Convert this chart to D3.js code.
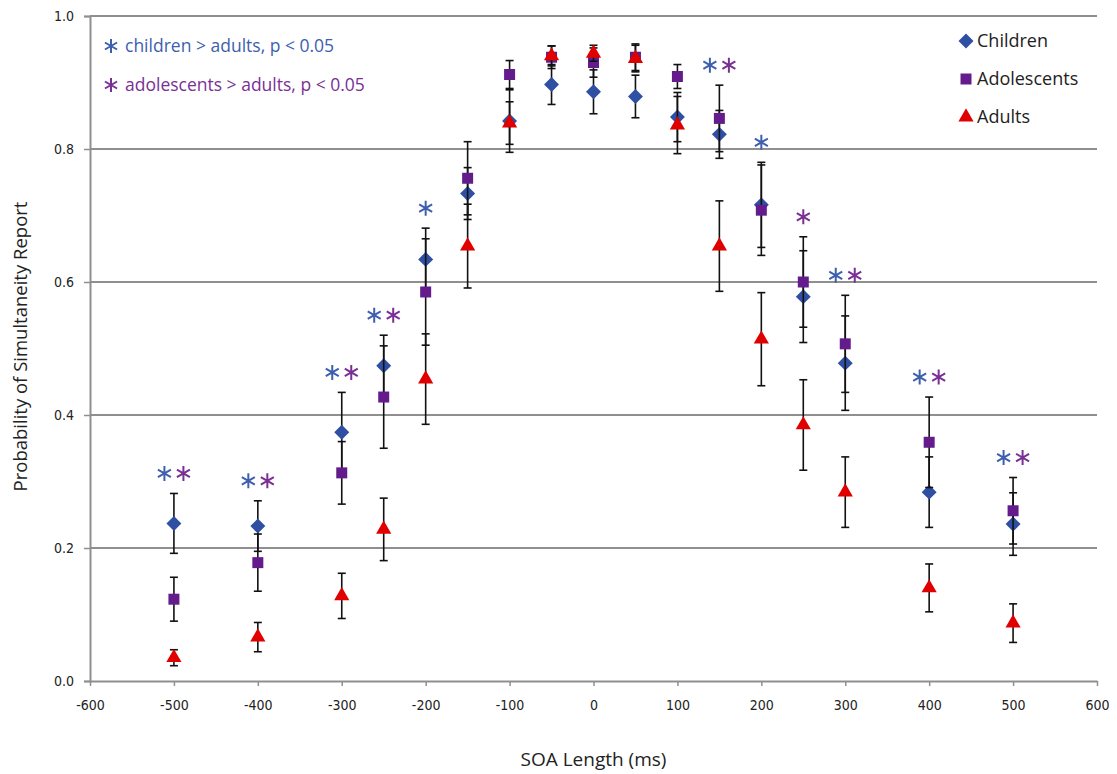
<!DOCTYPE html>
<html>
<head>
<meta charset="utf-8">
<script src="https://cdn.jsdelivr.net/npm/d3@7"></script>
<style>
  body { margin: 0; background: #fff; }
  svg { display: block; }
  .title { font-family: "Open Sans", "Liberation Sans", sans-serif; font-size: 17px; fill: #222; }
</style>
</head>
<body>
<div id="chart"></div>
<script>
// SOA values (ms)
const soa = [-500, -400, -300, -250, -200, -150, -100, -50, 0, 50, 100, 150, 200, 250, 300, 400, 500];

const childrenMean = [0.237, 0.233, 0.374, 0.474, 0.634, 0.733, 0.842, 0.897, 0.886, 0.879, 0.848, 0.822, 0.716, 0.578, 0.478, 0.284, 0.236];
const childrenErr  = [0.045, 0.038, 0.060, 0.046, 0.047, 0.039, 0.047, 0.030, 0.033, 0.032, 0.037, 0.036, 0.064, 0.069, 0.071, 0.053, 0.047];

const adolMean = [0.123, 0.178, 0.313, 0.427, 0.585, 0.756, 0.912, 0.938, 0.930, 0.938, 0.909, 0.846, 0.708, 0.600, 0.507, 0.359, 0.256];
const adolErr  = [0.033, 0.043, 0.047, 0.077, 0.080, 0.055, 0.021, 0.017, 0.022, 0.020, 0.018, 0.050, 0.068, 0.068, 0.073, 0.068, 0.050];

const adultMean = [0.035, 0.066, 0.128, 0.228, 0.454, 0.654, 0.839, 0.940, 0.944, 0.936, 0.836, 0.654, 0.514, 0.385, 0.284, 0.140, 0.087];
const adultErr  = [0.012, 0.022, 0.034, 0.047, 0.068, 0.063, 0.032, 0.015, 0.012, 0.020, 0.043, 0.068, 0.070, 0.068, 0.053, 0.036, 0.029];

// SOAs where a group differs from adults (p < 0.05)
const sigChildren = [-500, -400, -300, -250, -200, 150, 200, 300, 400, 500];
const sigAdol     = [-500, -400, -300, -250, 150, 250, 300, 400, 500];

const xTicks = [-600, -500, -400, -300, -200, -100, 0, 100, 200, 300, 400, 500, 600];
const yTicks = [0, 0.2, 0.4, 0.6, 0.8, 1.0];

const blue = '#2f4fa2', purple = '#641c8c', red = '#e00000';
const astBlue = '#3e5eae', astPurple = '#7a2f95';
const gridCol = '#8f8f8f';
const tickFont = '"DejaVu Sans Condensed", "Liberation Sans Narrow", sans-serif';

const W = 1117, H = 774;
const svg = d3.select('#chart').append('svg').attr('width', W).attr('height', H);

const x = d3.scaleLinear().domain([-600, 600]).range([90, 1097]);
const y = d3.scaleLinear().domain([0, 1]).range([681, 16]);

// gridlines
svg.append('g').selectAll('line')
  .data(yTicks.filter(d => d > 0))
  .enter().append('line')
  .attr('x1', x(-600)).attr('x2', x(600))
  .attr('y1', d => y(d)).attr('y2', d => y(d))
  .attr('stroke', gridCol).attr('stroke-width', 2);

// y axis
const yAxis = svg.append('g').attr('transform', `translate(${x(-600)},0)`)
  .call(d3.axisLeft(y).tickValues(yTicks).tickFormat(d => d.toFixed(1)).tickSize(6).tickPadding(10));
yAxis.attr('font-size', 14).attr('font-family', tickFont);
yAxis.select('.domain').attr('stroke', gridCol).attr('stroke-width', 2);
yAxis.selectAll('.tick line').attr('stroke', gridCol).attr('stroke-width', 1.5);
yAxis.selectAll('text').attr('fill', '#222');

// x axis (plain hyphen for negatives, as in the original)
const xAxis = svg.append('g').attr('transform', `translate(0,${y(0)})`)
  .call(d3.axisBottom(x).tickValues(xTicks).tickFormat(d => String(d)).tickSizeInner(5).tickSizeOuter(0).tickPadding(14));
xAxis.attr('font-size', 14).attr('font-family', tickFont);
xAxis.select('.domain').attr('stroke', gridCol).attr('stroke-width', 2);
xAxis.selectAll('.tick line').attr('stroke', gridCol).attr('stroke-width', 1.5);
xAxis.selectAll('text').attr('fill', '#222');

// axis titles
svg.append('text').attr('class', 'title')
  .attr('x', (x(-600) + x(600)) / 2).attr('y', 766)
  .attr('text-anchor', 'middle')
  .style('font-size', '19px')
  .text('SOA Length (ms)');
svg.append('text').attr('class', 'title')
  .attr('transform', `translate(27,${(y(0) + y(1)) / 2 - 2}) rotate(-90)`)
  .attr('text-anchor', 'middle')
  .style('font-size', '18.5px')
  .text('Probability of Simultaneity Report');

// marker shapes (diamond = square turned 45 degrees)
const shapes = {
  diamond: { d: d3.symbol().type(d3.symbolSquare).size(112)(), rot: 45 },
  square: { d: d3.symbol().type(d3.symbolSquare).size(121)(), rot: 0 },
  triangle: { d: d3.symbol().type(d3.symbolTriangle).size(100)(), rot: 0 }
};

const series = [
  { mean: childrenMean, err: childrenErr, color: blue, shape: shapes.diamond, name: 'Children' },
  { mean: adolMean, err: adolErr, color: purple, shape: shapes.square, name: 'Adolescents' },
  { mean: adultMean, err: adultErr, color: red, shape: shapes.triangle, name: 'Adults' }
];

const cap = 4;
series.forEach(s => {
  const rows = soa.map((v, i) => ({ soa: v, m: s.mean[i], e: s.err[i] }));
  const g = svg.append('g');
  const eb = g.selectAll('.eb').data(rows).enter().append('g')
    .attr('stroke', '#111').attr('stroke-width', 1.6);
  eb.append('line')
    .attr('x1', d => x(d.soa)).attr('x2', d => x(d.soa))
    .attr('y1', d => y(d.m + d.e)).attr('y2', d => y(d.m - d.e));
  eb.append('line')
    .attr('x1', d => x(d.soa) - cap).attr('x2', d => x(d.soa) + cap)
    .attr('y1', d => y(d.m + d.e)).attr('y2', d => y(d.m + d.e));
  eb.append('line')
    .attr('x1', d => x(d.soa) - cap).attr('x2', d => x(d.soa) + cap)
    .attr('y1', d => y(d.m - d.e)).attr('y2', d => y(d.m - d.e));
  g.selectAll('.pt').data(rows).enter().append('path')
    .attr('d', s.shape.d)
    .attr('transform', d => `translate(${x(d.soa)},${y(d.m)}) rotate(${s.shape.rot})`)
    .attr('fill', s.color);
});

// asterisk glyph: six arms
function asterisk(sel, cx, cy, r, col) {
  const p = d3.path();
  for (let k = 0; k < 3; k++) {
    const a = Math.PI / 2 + k * Math.PI / 3;
    p.moveTo(cx + r * Math.cos(a), cy + r * Math.sin(a));
    p.lineTo(cx - r * Math.cos(a), cy - r * Math.sin(a));
  }
  sel.append('path').attr('d', p.toString()).attr('stroke', col).attr('stroke-width', 2).attr('fill', 'none');
}

// significance markers, placed above the highest error bar
const topOf = v => {
  const i = soa.indexOf(v);
  return d3.max(series, s => s.mean[i] + s.err[i]);
};
const sigG = svg.append('g');
soa.forEach(v => {
  const c = sigChildren.includes(v), a = sigAdol.includes(v);
  if (!c && !a) return;
  const cy = y(topOf(v)) - 20;
  if (c && a) {
    asterisk(sigG, x(v) - 9.5, cy, 7.5, astBlue);
    asterisk(sigG, x(v) + 9.5, cy, 7.5, astPurple);
  } else {
    asterisk(sigG, x(v), cy, 7.5, c ? astBlue : astPurple);
  }
});

// annotation, top left
const notes = [
  { text: 'children > adults, p < 0.05', color: astBlue, y: 46 },
  { text: 'adolescents > adults, p < 0.05', color: astPurple, y: 85 }
];
notes.forEach(n => {
  asterisk(svg, 111, n.y, 7, n.color);
  svg.append('text').attr('class', 'title')
    .attr('x', 125).attr('y', n.y + 6)
    .style('fill', n.color).style('font-size', '17.5px')
    .text(n.text);
});

// legend, top right
const legend = svg.append('g');
series.forEach((s, i) => {
  const ly = 41 + i * 38;
  legend.append('path').attr('d', s.shape.d)
    .attr('transform', `translate(966,${ly}) rotate(${s.shape.rot})`).attr('fill', s.color);
  legend.append('text').attr('class', 'title')
    .attr('x', 977).attr('y', ly + 6)
    .style('font-size', '18px')
    .text(s.name);
});
</script>
</body>
</html>
